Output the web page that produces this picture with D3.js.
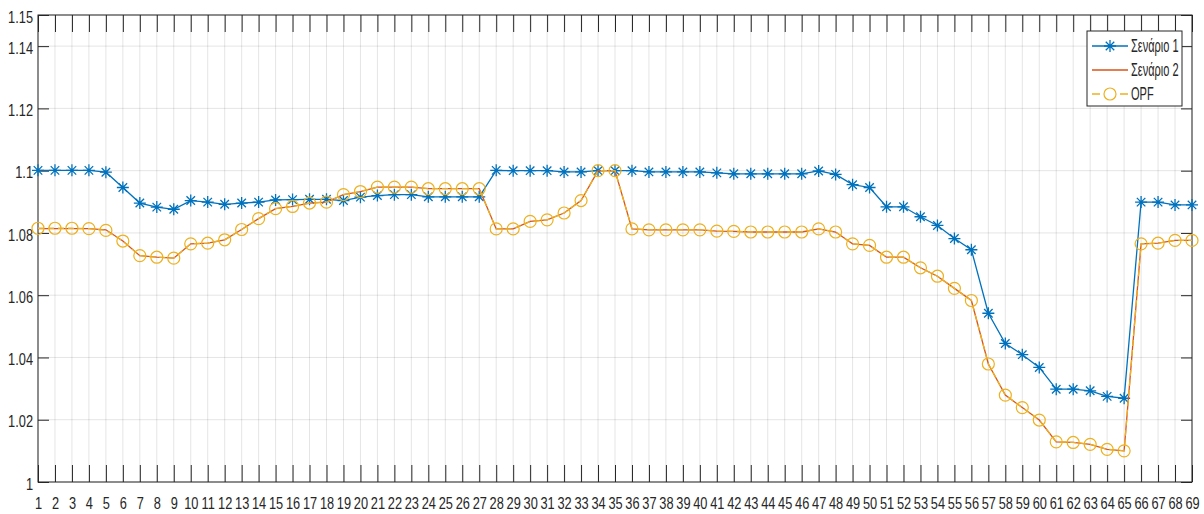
<!DOCTYPE html>
<html>
<head>
<meta charset="utf-8">
<script src="https://cdn.jsdelivr.net/npm/d3@7"></script>
<style>
  body { margin: 0; background: #fff; }
  svg { display: block; }
  text { font-family: "Liberation Sans", Arial, sans-serif; fill: #262626; }
</style>
</head>
<body>
<div class="chart"></div>
<script>
const buses = d3.range(1, 70);

const scenario1 = [
  1.1001, 1.1001, 1.1001, 1.1001, 1.0995, 1.0946, 1.0896, 1.0883, 1.0876, 1.0904,
  1.0899, 1.0892, 1.0896, 1.0899, 1.0906, 1.0907, 1.0908, 1.0908, 1.0904, 1.0915,
  1.0920, 1.0923, 1.0923, 1.0916, 1.0916, 1.0916, 1.0916, 1.1001, 1.1000, 1.1000,
  1.1000, 1.0996, 1.0996, 1.1000, 1.1000, 1.1000, 1.0996, 1.0996, 1.0996, 1.0996,
  1.0993, 1.0990, 1.0990, 1.0990, 1.0990, 1.0990, 1.0999, 1.0988, 1.0955, 1.0946,
  1.0884, 1.0884, 1.0852, 1.0824, 1.0782, 1.0746, 1.0542, 1.0445, 1.0409, 1.0368,
  1.0298, 1.0298, 1.0293, 1.0275, 1.0269, 1.0899, 1.0899, 1.0890, 1.0890
];

const opf = [
  1.0815, 1.0815, 1.0815, 1.0814, 1.0808, 1.0774, 1.0727, 1.0722, 1.0719, 1.0765,
  1.0767, 1.0778, 1.0811, 1.0846, 1.0878, 1.0885, 1.0896, 1.0899, 1.0923, 1.0933,
  1.0947, 1.0947, 1.0947, 1.0942, 1.0942, 1.0942, 1.0942, 1.0813, 1.0813, 1.0837,
  1.0842, 1.0864, 1.0904, 1.1000, 1.1000, 1.0813, 1.0810, 1.0810, 1.0810, 1.0810,
  1.0806, 1.0805, 1.0803, 1.0803, 1.0803, 1.0803, 1.0813, 1.0803, 1.0765, 1.0760,
  1.0722, 1.0722, 1.0688, 1.0661, 1.0622, 1.0583, 1.0379, 1.0279, 1.0239, 1.0199,
  1.0129, 1.0127, 1.0121, 1.0105, 1.0100, 1.0765, 1.0767, 1.0776, 1.0776
];

// Σενάριο 2 lies practically on top of the OPF curve
const scenario2 = [
  1.0814, 1.0814, 1.0814, 1.0814, 1.0810, 1.0774, 1.0727, 1.0722, 1.0719, 1.0765,
  1.0767, 1.0778, 1.0811, 1.0846, 1.0878, 1.0885, 1.0896, 1.0899, 1.0923, 1.0933,
  1.0947, 1.0947, 1.0947, 1.0942, 1.0942, 1.0942, 1.0942, 1.0813, 1.0813, 1.0837,
  1.0842, 1.0864, 1.0904, 1.1000, 1.1000, 1.0813, 1.0810, 1.0810, 1.0810, 1.0810,
  1.0806, 1.0805, 1.0803, 1.0803, 1.0803, 1.0803, 1.0813, 1.0803, 1.0765, 1.0760,
  1.0722, 1.0722, 1.0688, 1.0661, 1.0622, 1.0583, 1.0379, 1.0279, 1.0239, 1.0199,
  1.0129, 1.0127, 1.0121, 1.0105, 1.0100, 1.0765, 1.0767, 1.0776, 1.0776
];

const yTicks = [1, 1.02, 1.04, 1.06, 1.08, 1.1, 1.12, 1.14, 1.15];
const legendNames = ["Σενάριο 1", "Σενάριο 2", "OPF"];

const width = 1204;
const height = 514;
const margin = { top: 15, right: 12, bottom: 32, left: 38 };
const squeeze = 0.8;   // the reference text is horizontally condensed

const svg = d3.select(".chart")
  .append("svg")
  .attr("width", width)
  .attr("height", height);

const x = d3.scaleLinear()
  .domain([1, 69])
  .range([margin.left, width - margin.right]);

const y = d3.scaleLinear()
  .domain([1, 1.15])
  .range([height - margin.bottom, margin.top]);

// grid
svg.append("g")
  .attr("stroke", "#262626")
  .attr("stroke-opacity", 0.12)
  .call(g => g.selectAll(".vx")
    .data(buses)
    .join("line")
    .attr("x1", d => x(d)).attr("x2", d => x(d))
    .attr("y1", margin.top).attr("y2", height - margin.bottom))
  .call(g => g.selectAll(".hy")
    .data(yTicks)
    .join("line")
    .attr("x1", margin.left).attr("x2", width - margin.right)
    .attr("y1", d => y(d)).attr("y2", d => y(d)));

// axes with inward ticks
const xAxisBottom = g => g
  .attr("transform", `translate(0,${height - margin.bottom})`)
  .call(d3.axisBottom(x).tickValues(buses).tickFormat(d3.format("d")).tickSizeInner(-17).tickSizeOuter(0).tickPadding(16))
  .call(g => g.select(".domain").remove())
  .call(g => g.selectAll("line").attr("stroke", "#262626"))
  .call(g => g.selectAll("text")
    .attr("font-size", 16)
    .attr("fill", "#333")
    .attr("transform", `scale(${squeeze},1)`));

const xAxisTop = g => g
  .attr("transform", `translate(0,${margin.top})`)
  .call(d3.axisTop(x).tickValues(buses).tickFormat("").tickSizeInner(-17).tickSizeOuter(0))
  .call(g => g.select(".domain").remove())
  .call(g => g.selectAll("line").attr("stroke", "#262626"));

const yAxisLeft = g => g
  .attr("transform", `translate(${margin.left},0)`)
  .call(d3.axisLeft(y).tickValues(yTicks).tickFormat(d => String(+d.toFixed(2))).tickSizeInner(-11).tickSizeOuter(0))
  .call(g => g.select(".domain").remove())
  .call(g => g.selectAll("line").attr("stroke", "#262626"))
  .call(g => g.selectAll("text")
    .attr("font-size", 16)
    .attr("fill", "#333")
    .attr("x", -5 / squeeze)
    .attr("dy", "0.45em")
    .attr("transform", `scale(${squeeze},1)`));

const yAxisRight = g => g
  .attr("transform", `translate(${width - margin.right},0)`)
  .call(d3.axisRight(y).tickValues(yTicks).tickFormat("").tickSizeInner(-11).tickSizeOuter(0))
  .call(g => g.select(".domain").remove())
  .call(g => g.selectAll("line").attr("stroke", "#262626"));

svg.append("g").call(xAxisBottom);
svg.append("g").call(xAxisTop);
svg.append("g").call(yAxisLeft);
svg.append("g").call(yAxisRight);

svg.append("rect")
  .attr("x", margin.left)
  .attr("y", margin.top)
  .attr("width", width - margin.left - margin.right)
  .attr("height", height - margin.top - margin.bottom)
  .attr("fill", "none")
  .attr("stroke", "#262626")
  .attr("stroke-width", 1);

const line = d3.line()
  .x((d, i) => x(buses[i]))
  .y(d => y(d));

const blue = "#0072BD", red = "#D95319", yellow = "#EDB120";

// asterisk marker path (8 arms)
const star = r => {
  let p = "";
  for (let k = 0; k < 4; k++) {
    const a = k * Math.PI / 4;
    const dx = r * Math.sin(a), dy = r * Math.cos(a);
    p += `M${-dx},${-dy}L${dx},${dy}`;
  }
  return p;
};

// Σενάριο 1
svg.append("path")
  .datum(scenario1)
  .attr("fill", "none")
  .attr("stroke", blue)
  .attr("stroke-width", 1.3)
  .attr("d", line);

svg.append("g")
  .attr("stroke", blue)
  .attr("stroke-width", 1.3)
  .selectAll("path")
  .data(scenario1)
  .join("path")
  .attr("transform", (d, i) => `translate(${x(buses[i])},${y(d)})`)
  .attr("d", star(6));

// Σενάριο 2
svg.append("path")
  .datum(scenario2)
  .attr("fill", "none")
  .attr("stroke", red)
  .attr("stroke-width", 1.3)
  .attr("d", line);

// OPF
svg.append("path")
  .datum(opf)
  .attr("fill", "none")
  .attr("stroke", yellow)
  .attr("stroke-width", 1.3)
  .attr("stroke-dasharray", "6 4")
  .attr("d", line);

svg.append("g")
  .attr("stroke", yellow)
  .attr("stroke-width", 1.2)
  .attr("fill", "none")
  .selectAll("circle")
  .data(opf)
  .join("circle")
  .attr("cx", (d, i) => x(buses[i]))
  .attr("cy", d => y(d))
  .attr("r", 6);

// legend
const lg = svg.append("g").attr("transform", "translate(1087,31)");
lg.append("rect")
  .attr("width", 95).attr("height", 75)
  .attr("fill", "#fff").attr("stroke", "#262626");

const rows = lg.selectAll("g")
  .data(legendNames)
  .join("g")
  .attr("transform", (d, i) => `translate(0,${15 + i * 24})`);

rows.append("line")
  .attr("x1", 5).attr("x2", 41)
  .attr("stroke", (d, i) => [blue, red, yellow][i])
  .attr("stroke-width", 1.3)
  .attr("stroke-dasharray", (d, i) => i === 2 ? "8 6" : null);

rows.filter((d, i) => i === 0).append("path")
  .attr("transform", "translate(23,0)")
  .attr("d", star(6))
  .attr("stroke", blue).attr("stroke-width", 1.3);

rows.filter((d, i) => i === 2).append("circle")
  .attr("cx", 23).attr("r", 6)
  .attr("fill", "#fff").attr("stroke", yellow).attr("stroke-width", 1.2);

rows.append("text")
  .attr("transform", "translate(44,0) scale(0.63,1)")
  .attr("dy", "0.36em")
  .attr("font-size", 17.5)
  .text(d => d);
</script>
</body>
</html>
